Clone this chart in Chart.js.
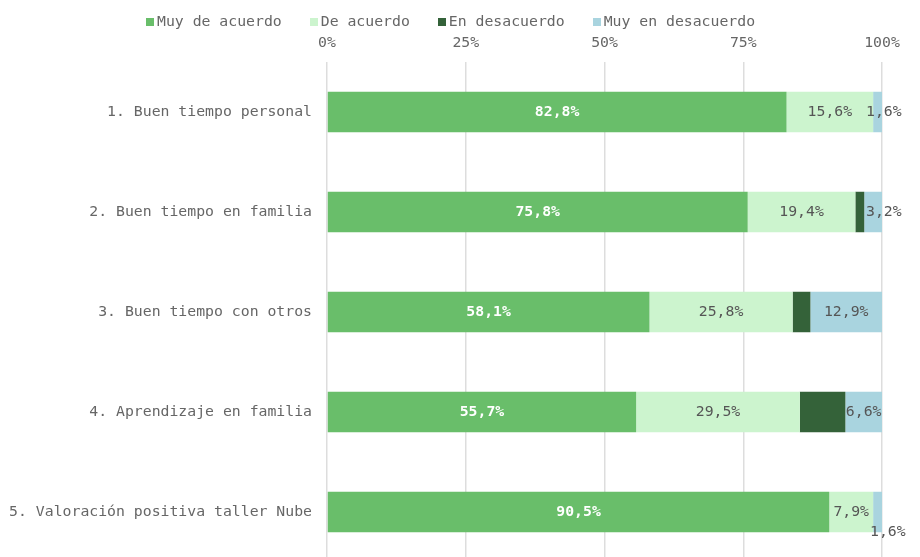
<!DOCTYPE html>
<html>
<head>
<meta charset="utf-8">
<script src="https://cdn.jsdelivr.net/npm/chart.js@4"></script>
<style>
  html, body { margin: 0; padding: 0; background: #fff; overflow: hidden; }
  #wrap { width: 920px; height: 562px; position: relative; }
  #leyenda { position: absolute; left: 146px; top: 12px; display: flex; font: 14.8px 'DejaVu Sans Mono', monospace; color: #666; }
  #leyenda span.item { display: flex; align-items: center; margin-right: 28px; }
  #leyenda span.caja { width: 8px; height: 8px; margin-right: 3px; margin-top: 3px; }
</style>
</head>
<body>
<div id="wrap">
  <div id="leyenda"></div>
  <canvas id="graphBarEncuesta" width="920" height="562"></canvas>
</div>
<script>
const categorias = [
  '1. Buen tiempo personal',
  '2. Buen tiempo en familia',
  '3. Buen tiempo con otros',
  '4. Aprendizaje en familia',
  '5. Valoración positiva taller Nube'
];
const muyDeAcuerdo = [82.8, 75.8, 58.1, 55.7, 90.5];
const deAcuerdo = [15.6, 19.4, 25.8, 29.5, 7.9];
const enDesacuerdo = [0, 1.6, 3.2, 8.2, 0];
const muyEnDesacuerdo = [1.6, 3.2, 12.9, 6.6, 1.6];
const ticksX = [0, 25, 50, 75, 100];

const fuente = "'DejaVu Sans Mono', monospace";
const fmt = v => `${v.toFixed(1).replace('.', ',')}%`;

// etiquetas de valor dentro de cada tramo
const etiquetas = {
  id: 'etiquetas',
  afterDatasetsDraw(chart) {
    const ctx = chart.ctx;
    const area = chart.chartArea;
    const ocupado = {};
    ctx.save();
    ctx.textBaseline = 'middle';
    chart.data.datasets.forEach((ds, i) => {
      if (!ds.mostrar) return;
      const meta = chart.getDatasetMeta(i);
      meta.data.forEach((bar, j) => {
        const v = ds.data[j];
        if (!v) return;
        ctx.font = `${ds.negrita ? 'bold ' : ''}14.8px ${fuente}`;
        ctx.fillStyle = ds.colorTexto;
        const txt = fmt(v);
        const w = ctx.measureText(txt).width;
        const x0 = Math.min(bar.x, bar.base);
        const x1 = Math.max(bar.x, bar.base);
        let left = (x0 + x1) / 2 - w / 2;
        if (w > x1 - x0 + 2) left = area.right - 16;
        let y = bar.y;
        // si choca con la etiqueta anterior, se baja
        if (ocupado[j] !== undefined && left < ocupado[j] + 2) {
          y += 20;
          left += 4;
        }
        ctx.textAlign = 'left';
        ctx.fillText(txt, left, y);
        ocupado[j] = left + w;
      });
    });
    ctx.restore();
  }
};

const ctx1 = document.getElementById('graphBarEncuesta');
let config1 = {
  type: 'bar',
  data: {
    labels: categorias,
    datasets: [{
      label: 'Muy de acuerdo',
      data: muyDeAcuerdo,
      backgroundColor: '#69be6a',
      mostrar: true, negrita: true, colorTexto: '#ffffff'
    }, {
      label: 'De acuerdo',
      data: deAcuerdo,
      backgroundColor: '#ccf4ce',
      mostrar: true, colorTexto: '#555555'
    }, {
      label: 'En desacuerdo',
      data: enDesacuerdo,
      backgroundColor: '#346239',
      mostrar: false, colorTexto: '#555555'
    }, {
      label: 'Muy en desacuerdo',
      data: muyEnDesacuerdo,
      backgroundColor: '#a9d4df',
      mostrar: true, colorTexto: '#555555'
    }]
  },
  options: {
    indexAxis: 'y',
    responsive: false,
    animation: false,
    barPercentage: 0.5,
    categoryPercentage: 0.81,
    layout: { autoPadding: false, padding: { left: 0, right: 38, top: 31, bottom: 0 } },
    plugins: {
      tooltip: { enabled: false },
      legend: { display: false }
    },
    scales: {
      x: {
        position: 'top',
        stacked: true,
        min: 0,
        max: 100,
        afterBuildTicks: axis => { axis.ticks = ticksX.map(v => ({ value: v })); },
        afterFit: axis => { axis.height = 31; axis.paddingLeft = 0; axis.paddingRight = 0; },
        ticks: {
          color: '#666',
          font: { family: fuente, size: 14.8 },
          padding: 10,
          callback: value => `${value}%`
        },
        grid: { color: '#dddddd', lineWidth: 1.5, drawTicks: false },
        border: { display: false }
      },
      y: {
        stacked: true,
        afterFit: axis => { axis.width = 327; axis.paddingTop = 0; axis.paddingBottom = 0; },
        ticks: {
          color: '#666',
          font: { family: fuente, size: 14.8 },
          padding: 15
        },
        grid: { display: false, drawTicks: false },
        border: { display: false }
      }
    }
  },
  plugins: [etiquetas]
};
let chartEncuesta = new Chart(ctx1, config1);

// leyenda en html
const leyenda = document.getElementById('leyenda');
config1.data.datasets.forEach(ds => {
  leyenda.innerHTML += `<span class="item"><span class="caja" style="background:${ds.backgroundColor}"></span>${ds.label}</span>`;
});
</script>
</body>
</html>
